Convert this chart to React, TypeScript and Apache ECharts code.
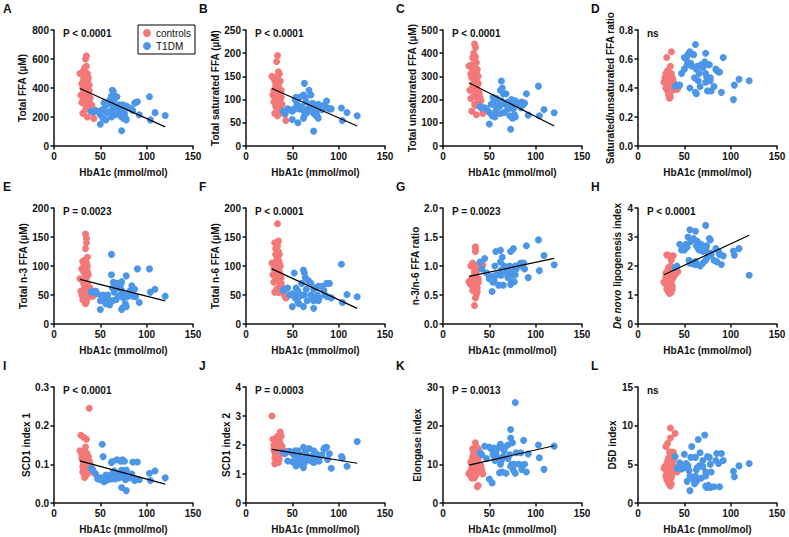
import React, { useEffect, useRef } from "react";
import * as echarts from "echarts";

// HbA1c (mmol/mol) per subject
const hba1cControls = [28, 29, 30, 30, 31, 31, 31, 32, 32, 32, 32, 33, 33, 33, 33, 33, 34, 34, 34, 34, 34, 34, 35, 35, 35, 35, 35, 35, 36, 36, 36, 36, 36, 37, 37, 37, 37, 38, 38, 38, 39, 40, 41, 42, 43];
const hba1cT1DM = [40, 42, 45, 47, 50, 50, 52, 53, 54, 55, 56, 56, 57, 58, 60, 61, 62, 62, 63, 63, 64, 65, 66, 67, 68, 70, 70, 72, 73, 73, 73, 74, 75, 76, 77, 78, 78, 79, 82, 84, 85, 87, 88, 90, 92, 103, 104, 109, 120];

// A Total FFA
const totalFfaControls = [500, 350, 300, 430, 490, 400, 225, 370, 460, 330, 520, 540, 410, 380, 350, 290, 600, 480, 440, 400, 360, 250, 620, 550, 460, 420, 330, 270, 500, 450, 390, 340, 200, 470, 430, 360, 310, 420, 380, 300, 330, 285, 280, 230, 190];
const totalFfaT1DM = [240, 235, 245, 240, 150, 215, 250, 190, 300, 290, 280, 180, 230, 295, 315, 240, 345, 200, 385, 280, 375, 320, 215, 260, 340, 285, 235, 205, 270, 105, 250, 285, 190, 225, 195, 275, 180, 270, 260, 250, 245, 295, 300, 305, 215, 340, 180, 230, 210];
// B Total saturated
const satControls = [150, 110, 95, 120, 140, 105, 70, 130, 115, 85, 145, 182, 125, 100, 90, 75, 195, 150, 135, 110, 95, 65, 160, 140, 130, 115, 90, 80, 155, 120, 105, 100, 70, 140, 115, 100, 85, 120, 105, 90, 90, 75, 70, 68, 55];
const satT1DM = [75, 70, 80, 78, 57, 75, 80, 100, 105, 90, 103, 50, 80, 105, 85, 78, 110, 60, 135, 65, 105, 95, 72, 80, 120, 110, 85, 92, 85, 32, 70, 75, 67, 70, 63, 90, 60, 80, 78, 88, 85, 97, 82, 80, 80, 82, 55, 72, 65];
// C Total unsaturated
const unsatControls = [345, 240, 205, 310, 350, 295, 150, 260, 330, 245, 380, 400, 300, 270, 255, 215, 440, 340, 320, 290, 260, 180, 425, 385, 330, 300, 240, 175, 360, 320, 285, 240, 135, 330, 300, 260, 220, 300, 270, 200, 230, 210, 195, 160, 140];
const unsatT1DM = [170, 165, 165, 160, 95, 145, 180, 130, 210, 200, 175, 125, 150, 205, 175, 170, 240, 140, 280, 195, 250, 225, 145, 180, 225, 190, 160, 130, 185, 72, 180, 200, 120, 160, 135, 195, 125, 190, 180, 165, 190, 180, 185, 225, 133, 258, 130, 157, 143];
// D Sat/unsat ratio
const satRatioControls = [0.44, 0.47, 0.50, 0.40, 0.61, 0.46, 0.43, 0.48, 0.42, 0.38, 0.52, 0.44, 0.40, 0.37, 0.35, 0.47, 0.33, 0.45, 0.41, 0.38, 0.50, 0.36, 0.37, 0.48, 0.43, 0.40, 0.55, 0.34, 0.65, 0.46, 0.41, 0.38, 0.50, 0.44, 0.39, 0.42, 0.47, 0.41, 0.39, 0.45, 0.40, 0.40, 0.41, 0.39, 0.40];
const satRatioT1DM = [0.41, 0.42, 0.42, 0.50, 0.61, 0.53, 0.60, 0.56, 0.63, 0.64, 0.65, 0.40, 0.57, 0.55, 0.63, 0.47, 0.70, 0.37, 0.36, 0.53, 0.55, 0.45, 0.50, 0.41, 0.56, 0.55, 0.54, 0.58, 0.64, 0.50, 0.44, 0.48, 0.38, 0.56, 0.56, 0.45, 0.47, 0.38, 0.41, 0.53, 0.52, 0.51, 0.51, 0.37, 0.61, 0.32, 0.42, 0.46, 0.45];
// E Total n-3
const n3Controls = [78, 57, 50, 95, 108, 75, 42, 90, 70, 55, 100, 110, 88, 65, 48, 40, 155, 130, 95, 85, 60, 35, 148, 140, 105, 92, 80, 38, 115, 100, 90, 70, 45, 85, 62, 55, 48, 60, 50, 47, 62, 57, 50, 48, 55];
const n3T1DM = [55, 55, 57, 52, 25, 40, 45, 50, 45, 38, 48, 35, 42, 50, 33, 40, 120, 85, 62, 40, 72, 55, 70, 42, 70, 62, 48, 68, 73, 25, 58, 28, 45, 50, 35, 83, 30, 47, 57, 66, 48, 60, 47, 95, 37, 95, 55, 60, 48];
// F Total n-6
const n6Controls = [105, 85, 72, 95, 140, 100, 55, 90, 120, 80, 130, 138, 110, 95, 75, 60, 173, 135, 115, 100, 85, 55, 143, 125, 110, 95, 80, 62, 120, 105, 90, 78, 55, 100, 85, 70, 62, 80, 70, 60, 63, 58, 52, 48, 45];
const n6T1DM = [58, 60, 62, 50, 30, 52, 88, 45, 62, 52, 57, 38, 35, 48, 70, 50, 93, 30, 88, 50, 80, 60, 40, 75, 73, 70, 50, 42, 60, 27, 40, 45, 47, 63, 50, 65, 40, 45, 65, 58, 50, 70, 47, 70, 45, 103, 37, 51, 47];
// G n-3/n-6 ratio
const n3n6Controls = [0.73, 0.70, 0.68, 1.00, 0.77, 0.75, 0.76, 1.05, 0.58, 0.69, 0.77, 0.80, 0.80, 0.68, 0.64, 0.67, 0.90, 0.96, 0.83, 0.85, 0.71, 0.32, 1.30, 1.33, 0.95, 1.25, 1.00, 0.45, 0.96, 0.95, 1.00, 0.90, 0.50, 0.62, 0.73, 0.79, 0.55, 0.75, 0.71, 0.78, 0.98, 0.98, 0.96, 1.00, 1.02];
const n3n6T1DM = [1.07, 0.95, 1.13, 0.88, 0.80, 0.78, 0.82, 0.56, 0.72, 0.75, 1.00, 0.83, 1.25, 0.85, 0.67, 0.85, 1.27, 1.07, 0.93, 0.84, 1.15, 0.67, 1.00, 0.98, 0.90, 0.88, 0.80, 1.00, 1.25, 0.68, 0.92, 0.73, 0.85, 1.30, 0.73, 1.00, 0.85, 0.95, 1.02, 1.05, 1.00, 1.05, 0.95, 1.35, 0.80, 1.45, 0.92, 1.18, 1.02];
// H De novo lipogenesis index
const dnlControls = [1.45, 1.40, 1.60, 1.75, 2.38, 1.50, 1.20, 1.85, 1.55, 1.35, 2.38, 1.95, 1.70, 1.40, 1.25, 1.10, 2.35, 1.90, 1.75, 1.60, 1.45, 1.05, 2.30, 2.00, 1.80, 1.55, 1.30, 1.15, 2.20, 1.85, 1.65, 1.40, 1.10, 1.75, 1.55, 1.30, 1.20, 2.35, 1.80, 1.60, 1.85, 1.70, 1.80, 1.85, 1.80];
const dnlT1DM = [1.95, 2.00, 2.75, 2.55, 2.60, 2.55, 2.75, 2.65, 3.00, 2.20, 3.25, 2.10, 2.85, 2.10, 2.95, 2.05, 3.20, 2.15, 2.70, 2.05, 2.85, 2.60, 2.55, 2.00, 2.75, 2.50, 2.10, 2.65, 3.40, 2.20, 2.60, 2.70, 2.30, 2.40, 2.95, 2.90, 2.45, 2.40, 2.20, 2.60, 2.15, 2.50, 2.40, 2.05, 2.35, 2.52, 2.37, 2.60, 1.68];
// I SCD1 index 1
const scd1Controls = [0.135, 0.175, 0.115, 0.125, 0.095, 0.110, 0.080, 0.130, 0.100, 0.085, 0.170, 0.125, 0.105, 0.090, 0.075, 0.066, 0.145, 0.120, 0.105, 0.095, 0.085, 0.070, 0.165, 0.130, 0.115, 0.100, 0.090, 0.080, 0.125, 0.110, 0.098, 0.088, 0.075, 0.120, 0.105, 0.092, 0.083, 0.245, 0.110, 0.090, 0.100, 0.085, 0.090, 0.082, 0.078];
const scd1T1DM = [0.090, 0.085, 0.075, 0.063, 0.060, 0.065, 0.152, 0.120, 0.055, 0.068, 0.072, 0.058, 0.070, 0.060, 0.065, 0.072, 0.105, 0.062, 0.107, 0.065, 0.080, 0.083, 0.062, 0.070, 0.112, 0.075, 0.065, 0.108, 0.085, 0.040, 0.068, 0.112, 0.075, 0.108, 0.060, 0.032, 0.085, 0.070, 0.065, 0.075, 0.106, 0.058, 0.062, 0.106, 0.060, 0.077, 0.058, 0.083, 0.065];
// J SCD1 index 2
const scd2Controls = [3.00, 2.20, 2.00, 1.85, 1.75, 1.55, 1.35, 2.15, 1.95, 1.70, 1.60, 2.25, 2.05, 1.85, 1.65, 1.50, 2.30, 2.10, 1.90, 1.75, 1.60, 1.45, 2.20, 2.00, 1.85, 1.70, 1.55, 1.40, 2.15, 1.95, 1.80, 1.65, 1.50, 2.45, 2.05, 1.85, 1.70, 2.30, 1.90, 1.75, 1.95, 1.80, 1.75, 1.70, 1.78];
const scd2T1DM = [1.75, 1.72, 1.45, 1.78, 1.42, 1.72, 1.65, 1.80, 1.28, 1.75, 1.80, 1.50, 1.35, 1.55, 1.45, 1.65, 1.92, 1.22, 1.50, 1.38, 1.75, 1.65, 1.50, 1.60, 1.88, 1.55, 1.45, 1.55, 1.80, 1.40, 1.65, 1.55, 1.48, 1.70, 1.45, 1.50, 1.60, 1.45, 1.65, 1.85, 1.90, 1.92, 1.50, 1.70, 1.20, 1.60, 1.55, 1.27, 2.12];
// K Elongase index
const elongControls = [7.5, 8.0, 7.0, 10.5, 11.0, 9.0, 6.5, 12.0, 10.0, 8.5, 14.0, 13.0, 11.5, 9.5, 8.0, 7.0, 14.0, 12.5, 11.0, 9.0, 7.5, 6.5, 15.6, 13.5, 12.0, 10.0, 8.5, 7.0, 14.5, 12.0, 10.5, 9.0, 7.5, 13.5, 11.0, 9.5, 4.2, 14.0, 11.5, 4.5, 8.0, 10.0, 9.5, 8.5, 7.5];
const elongT1DM = [13.0, 12.5, 14.7, 11.5, 6.2, 14.5, 14.0, 5.2, 12.5, 14.2, 11.5, 11.0, 13.0, 12.0, 14.3, 7.8, 15.2, 10.0, 14.5, 11.0, 8.0, 12.0, 13.5, 14.5, 7.7, 11.5, 15.0, 12.5, 19.0, 16.8, 9.5, 10.0, 15.6, 8.5, 10.0, 26.0, 7.7, 13.0, 10.0, 13.0, 8.7, 16.2, 10.0, 8.0, 12.7, 15.0, 11.7, 8.7, 14.7];
// L D5D index
const d5dControls = [4.5, 4.7, 7.3, 3.5, 5.0, 4.0, 3.0, 7.7, 5.5, 4.2, 3.2, 5.8, 4.8, 3.9, 2.9, 2.6, 6.6, 5.2, 4.5, 3.6, 3.0, 2.4, 9.7, 8.4, 6.6, 4.4, 3.5, 2.2, 5.6, 4.6, 4.0, 3.3, 2.5, 6.0, 5.0, 4.4, 3.8, 6.6, 5.5, 6.5, 4.5, 9.0, 4.6, 4.0, 4.2];
const d5dT1DM = [6.0, 4.5, 5.2, 4.4, 6.3, 4.6, 5.1, 2.8, 4.8, 4.2, 1.6, 3.5, 5.9, 7.3, 3.0, 2.5, 3.5, 5.9, 2.8, 4.3, 4.6, 8.2, 4.8, 6.5, 3.2, 4.7, 5.5, 8.8, 4.0, 2.2, 3.5, 2.0, 6.0, 2.3, 5.9, 2.0, 5.0, 4.0, 2.1, 5.5, 6.4, 5.1, 2.1, 6.4, 5.5, 4.1, 3.4, 4.8, 5.1];

// Regression line end values at fitX
const fitX = [28, 120];
const fitTotal = [397, 132];
const fitSat = [124, 43];
const fitUnsat = [273, 86];
const fitN3 = [77, 40];
const fitN6 = [95, 27];
const fitN3n6 = [0.82, 1.13];
const fitDnl = [1.70, 3.06];
const fitScd1 = [0.109, 0.049];
const fitScd2 = [1.85, 1.37];
const fitElong = [9.8, 14.8];

const panelLetters = ["A", "B", "C", "D", "E", "F", "G", "H", "I", "J", "K", "L"];
const pTexts = ["P < 0.0001", "P < 0.0001", "P < 0.0001", "ns", "P = 0.0023", "P < 0.0001", "P = 0.0023", "P < 0.0001", "P < 0.0001", "P = 0.0003", "P = 0.0013", "ns"];
const yTitles = [
  "Total FFA (µM)", "Total saturated FFA (µM)", "Total unsaturated FFA (µM)", "Saturated/unsaturated FFA ratio",
  "Total n-3 FFA (µM)", "Total n-6 FFA (µM)", "n-3/n-6 FFA ratio", "{i|De novo} lipogenesis index",
  "SCD1 index 1", "SCD1 index 2", "Elongase index", "D5D index",
];
const yMaxes = [800, 250, 500, 0.8, 200, 200, 2.0, 4, 0.3, 4, 30, 15];
const yIntervals = [200, 50, 100, 0.2, 50, 50, 0.5, 1, 0.1, 1, 10, 5];
const yDecimals = [0, 0, 0, 1, 0, 0, 1, 0, 1, 0, 0, 0];
const xTicks = { min: 0, max: 150, interval: 50 };
const xTitle = "HbA1c (mmol/mol)";

const controlsY = [totalFfaControls, satControls, unsatControls, satRatioControls, n3Controls, n6Controls, n3n6Controls, dnlControls, scd1Controls, scd2Controls, elongControls, d5dControls];
const t1dmY = [totalFfaT1DM, satT1DM, unsatT1DM, satRatioT1DM, n3T1DM, n6T1DM, n3n6T1DM, dnlT1DM, scd1T1DM, scd2T1DM, elongT1DM, d5dT1DM];
const fits = [fitTotal, fitSat, fitUnsat, null, fitN3, fitN6, fitN3n6, fitDnl, fitScd1, fitScd2, fitElong, null];

const FONT = '"Liberation Sans", Arial, Helvetica, sans-serif';
const RED = "#F47878";
const BLUE = "#4C96E8";
const INK = "#111";

const colLefts = [54, 246, 443, 638];
const rowTops = [30, 208, 387];
const gridW = 139;
const gridH = 116;
const nameGaps = [27, 26, 26, 23, 25, 26, 23, 16, 22, 15, 20, 18];

export default function App() {
  const ref = useRef<HTMLDivElement>(null);
  useEffect(() => {
    if (!ref.current) return;
    const chart = echarts.init(ref.current, undefined, { renderer: "svg" });
    const grid: any[] = [];
    const xAxis: any[] = [];
    const yAxis: any[] = [];
    const series: any[] = [];
    const graphic: any[] = [];
    for (let i = 0; i < 12; i++) {
      const r = Math.floor(i / 4);
      const c = i % 4;
      const left = colLefts[c];
      const top = rowTops[r];
      grid.push({ left, top, width: gridW, height: gridH, containLabel: false });
      const axisCommon = {
        axisLine: { show: true, lineStyle: { color: INK, width: 1.5 } },
        axisTick: { show: true, length: 3.5, inside: false, lineStyle: { color: INK, width: 1.5 } },
        splitLine: { show: false },
      };
      xAxis.push({
        type: "value",
        gridIndex: i,
        min: xTicks.min,
        max: xTicks.max,
        interval: xTicks.interval,
        ...axisCommon,
        axisLabel: { color: INK, fontFamily: FONT, fontSize: 10, fontWeight: "bold", margin: 5, showMaxLabel: true, showMinLabel: true },
        name: xTitle,
        nameLocation: "middle",
        nameGap: 21,
        nameTextStyle: { color: INK, fontFamily: FONT, fontSize: 10, fontWeight: "bold" },
      });
      const dec = yDecimals[i];
      yAxis.push({
        type: "value",
        gridIndex: i,
        min: 0,
        max: yMaxes[i],
        interval: yIntervals[i],
        ...axisCommon,
        axisLabel: {
          color: INK, fontFamily: FONT, fontSize: 10, fontWeight: "bold", margin: 5,
          formatter: (v: number) => v.toFixed(dec),
        },
        name: yTitles[i],
        nameLocation: "middle",
        nameGap: nameGaps[i],
        nameRotate: 90,
        nameTextStyle: {
          color: INK, fontFamily: FONT, fontSize: 10, fontWeight: "bold",
          rich: { i: { fontStyle: "italic", fontWeight: "bold", fontFamily: FONT, fontSize: 10, color: INK } },
        },
      });
      series.push({
        type: "scatter",
        name: "controls",
        xAxisIndex: i,
        yAxisIndex: i,
        symbol: "circle",
        symbolSize: 7,
        itemStyle: { color: RED, opacity: 1 },
        data: hba1cControls.map((x, k) => [x, controlsY[i][k]]),
        z: 2,
      });
      series.push({
        type: "scatter",
        name: "T1DM",
        xAxisIndex: i,
        yAxisIndex: i,
        symbol: "circle",
        symbolSize: 7,
        itemStyle: { color: BLUE, opacity: 1 },
        data: hba1cT1DM.map((x, k) => [x, t1dmY[i][k]]),
        z: 3,
      });
      const f = fits[i];
      if (f) {
        series.push({
          type: "line",
          xAxisIndex: i,
          yAxisIndex: i,
          symbol: "none",
          silent: true,
          lineStyle: { color: "#000", width: 1.2 },
          data: fitX.map((x, k) => [x, f[k]]),
          z: 5,
        });
      }
      graphic.push({
        type: "text",
        left: c === 0 ? 3 : left - 47,
        top: top - 27,
        style: { text: panelLetters[i], font: `bold 12px ${FONT}`, fill: INK },
      });
      graphic.push({
        type: "text",
        x: left + 9,
        y: top + 3,
        style: { text: pTexts[i], font: `bold 10px ${FONT}`, fill: INK, textVerticalAlign: "middle", verticalAlign: "middle" },
      });
    }
    chart.setOption({
      animation: false,
      backgroundColor: "#fff",
      grid,
      xAxis,
      yAxis,
      series,
      graphic,
      legend: {
        data: ["controls", "T1DM"],
        left: 138,
        top: 25,
        orient: "vertical",
        icon: "circle",
        itemWidth: 8,
        itemHeight: 8,
        itemGap: 3,
        itemTextGap: 7,
        padding: [3, 4, 3, 5],
        borderColor: "#000",
        borderWidth: 1,
        selectedMode: false,
        textStyle: { color: INK, fontFamily: FONT, fontSize: 10 },
      },
    });
    return () => chart.dispose();
  }, []);
  return <div ref={ref} style={{ position: "absolute", left: 0, top: 0, width: 789, height: 537 }} />;
}
